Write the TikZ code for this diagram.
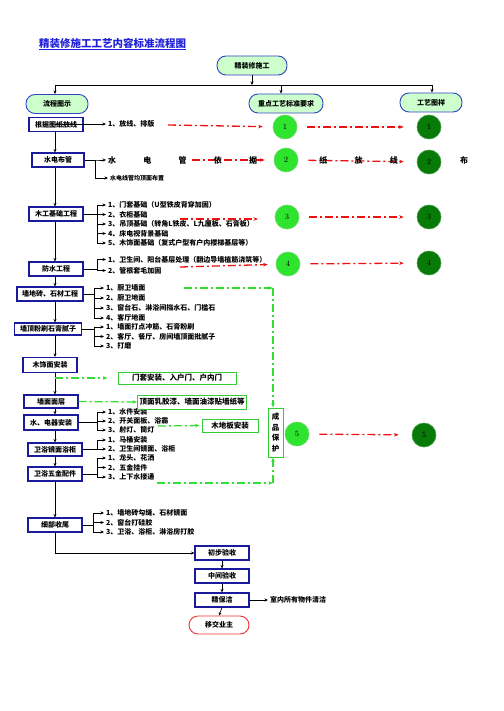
\documentclass[tikz,border=0pt]{standalone}
\usepackage{fontspec}
\newfontfamily\cjk{Noto Sans CJK SC}
\usetikzlibrary{arrows.meta,positioning,calc}
\definecolor{titleblue}{HTML}{2020D8}
\definecolor{pillfill}{HTML}{CCFFCC}
\definecolor{pillline}{HTML}{3344C0}
\definecolor{stageline}{HTML}{1A1A9A}
\definecolor{gline}{HTML}{33CC33}
\definecolor{litefill}{HTML}{2EE42E}
\definecolor{liteline}{HTML}{66D966}
\definecolor{darkfill}{HTML}{087A08}
\definecolor{darkline}{HTML}{3E9E3E}
\definecolor{dashred}{HTML}{EE1111}
\definecolor{dashgreen}{HTML}{33DD33}
\definecolor{handoff}{HTML}{EE3333}
\newcommand{\branch}[3]{%
  \foreach \nm in {#3} {\draw[link] (#1.east) -- (#1.east -| #2) |- (\nm.west);}}

\begin{document}
\begin{tikzpicture}[x=1pt,y=-1pt,
  pill/.style={draw=pillline, fill=pillfill, line width=0.9pt, rounded corners=9pt,
    minimum height=19pt, inner sep=1pt, font=\cjk\bfseries\fontsize{7}{8}\selectfont},
  stagebox/.style={draw=stageline, fill=white, line width=1.1pt, minimum height=14pt,
    minimum width=54pt, inner xsep=4pt, inner ysep=1pt, font=\cjk\bfseries\fontsize{7}{8}\selectfont},
  item/.style={anchor=west, inner xsep=2pt, inner ysep=0.5pt, font=\cjk\bfseries\fontsize{7}{8}\selectfont},
  gbox/.style={draw=gline, fill=white, line width=1pt, minimum height=13pt, inner sep=1pt,
    font=\cjk\bfseries\fontsize{7.5}{9}\selectfont},
  lite/.style={circle, fill=litefill, draw=liteline, line width=0.6pt, minimum size=24pt,
    inner sep=0pt, font=\fontsize{8}{8}\selectfont},
  dark/.style={lite, fill=darkfill, draw=darkline},
  link/.style={-{Stealth[length=3.5pt,width=3pt]}, line width=0.6pt},
  redrun/.style={draw=dashred, line width=1.3pt, dash pattern=on 8pt off 3pt on 2pt off 3pt,
    -{Stealth[length=4.5pt,width=3.5pt]}},
  greenrun/.style={redrun, draw=dashgreen}]

\useasboundingbox (0,0) rectangle (503,711);

\node[anchor=west, inner sep=0pt, text=titleblue, font=\cjk\bfseries\fontsize{10.5}{12}\selectfont]
  (title) at (39,44) {\underline{精装修施工工艺内容标准流程图}};

% top level
\node[pill, minimum width=70pt] (top) at (252,65.5) {精装修施工};
\node[pill, minimum width=62pt] (liucheng) at (57,104) {流程图示};
\node[pill, minimum width=74pt] (zhongdian) at (286,103.5) {重点工艺标准要求};
\node[pill, minimum width=62pt] (tuyang) at (431,102.5) {工艺图样};

\coordinate (busL) at (55,85);
\coordinate (busM) at (281,85);
\coordinate (busR) at (432,85);
\draw[line width=0.9pt] (busL) -- (busR);
\draw[link] (top.south) -- (top.south |- busL);
\draw[link] (busL) -- (busL |- liucheng.north);
\draw[link] (busM) -- (busM |- zhongdian.north);
\draw[link] (busR) -- (busR |- tuyang.north);

% left column
\node[stagebox] (fangxian) at (56,124.5) {根据图纸放线};
\node[stagebox, minimum width=52pt] (shuidian) at (58,160) {水电布管};
\node[stagebox] (mugong) at (56,214) {木工基础工程};
\node[stagebox] (fangshui) at (56,269) {防水工程};
\node[stagebox, minimum width=66pt] (dizhuan) at (50,294) {墙地砖、石材工程};
\node[stagebox, minimum width=67pt, minimum height=12pt] (fenshua) at (48,329) {墙顶粉刷石膏腻子};
\node[stagebox, minimum height=15pt] (mushimian) at (50,365) {木饰面安装};
\node[stagebox, minimum height=13pt] (mianceng) at (51,401.5) {墙面面层};
\node[stagebox, minimum height=15pt] (dianqi) at (51,422.5) {水、电器安装};
\node[stagebox, minimum height=13pt] (yugui) at (55,449.5) {卫浴镜面浴柜};
\node[stagebox] (wujin) at (55,474) {卫浴五金配件};
\node[stagebox] (shouwei) at (55,525) {细部收尾};

\coordinate (spine) at (55,0);
\foreach \a/\b in {fangxian/shuidian, shuidian/mugong, mugong/fangshui, fangshui/dizhuan,
                   dizhuan/fenshua, fenshua/mushimian, mushimian/mianceng, mianceng/dianqi,
                   dianqi/yugui, yugui/wujin, wujin/shouwei}
  \draw[link] (\a.south -| spine) -- (\b.north -| spine);

% acceptance
\node[stagebox] (chubu) at (222,553) {初步验收};
\node[stagebox] (zhongjian) at (222,576) {中间验收};
\node[stagebox] (baojie) at (222,600) {精保洁};
\node[pill, draw=handoff, fill=white, minimum width=60pt, minimum height=18pt] (yijiao) at (219,625) {移交业主};
\draw[link] (shouwei.south -| spine) |- (chubu.west);
\foreach \a/\b in {chubu/zhongjian, zhongjian/baojie, baojie/yijiao}
  \draw[link] (\a.south) -- (\b.north);
\node[item] (clean) at (268,600) {室内所有物件清洁};
\draw[link] (baojie.east) -- (clean.west);

% red runs (behind the texts)
\coordinate (r1) at (168,125);
\coordinate (r2) at (192,160);
\coordinate (r3a) at (180,219);
\coordinate (r3b) at (258,219);
\coordinate (r4) at (180,267);
\node[lite] (lite1) at (285,127) {1};
\node[dark] (dark1) at (429,127) {1};
\node[lite] (lite2) at (286,160) {2};
\node[dark] (dark2) at (429,162) {2};
\node[lite] (lite3) at (287,217) {3};
\node[dark] (dark3) at (429,217) {3};
\node[lite] (lite4) at (288,264) {4};
\node[dark] (dark4) at (429,263) {4};
\node[lite] (lite5) at (297,434) {5};
\node[dark] (dark5) at (424,435) {5};
\draw[redrun, shorten >=10pt] (r1) -- (lite1);
\draw[redrun, shorten >=9pt] (r2) -- (lite2);
\draw[redrun] (r3a) -- (r3b);
\draw[redrun, shorten >=8pt] (r4) -- (lite4);
\foreach \i in {1,...,5}
  \draw[redrun, shorten <=10pt, shorten >=13pt] (lite\i) -- (dark\i);

% items
\node[item] (fx1) at (106,124) {1、放线、排版};
\branch{fangxian}{spine}{fx1}

\node[item, font=\cjk\bfseries\fontsize{8}{9}\selectfont] (sd1) at (106,160)
  {\hbox to 360pt{水\hfil 电\hfil 管\hfil 依\hfil 据\hfil\phantom{图}\hfil 纸\hfil 放\hfil 线\hfil\phantom{图}\hfil 布}};
\node[item, font=\cjk\bfseries\fontsize{6}{7}\selectfont] (sd2) at (108,178) {水电线管均顶面布置};
\coordinate (bxa) at (95,0);
\branch{shuidian}{bxa}{sd1,sd2}

\coordinate (bxb) at (97,0);
\node[item] (mg1) at (106,205) {1、门套基础（U型铁皮背穿加固）};
\node[item] (mg2) at (106,214.5) {2、衣柜基础};
\node[item] (mg3) at (106,224) {3、吊顶基础（转角L铁皮、L九厘板、石膏板）};
\node[item] (mg4) at (106,233.5) {4、床电视背景基础};
\node[item] (mg5) at (106,243) {5、木饰面基础（复式户型有户内楼梯基层等）};
\branch{mugong}{bxb}{mg1,mg2,mg3,mg4,mg5}

\node[item] (fs1) at (106,259.5) {1、卫生间、阳台基层处理（翻边导墙植筋浇筑等）};
\node[item] (fs2) at (106,270.5) {2、管根套毛加固};
\branch{fangshui}{bxb}{fs1,fs2}

\coordinate (bxc) at (94,0);
\node[item] (dz1) at (104,288) {1、厨卫墙面};
\node[item] (dz2) at (104,298) {2、厨卫地面};
\node[item] (dz3) at (104,308) {3、窗台石、淋浴间挡水石、门槛石};
\node[item] (dz4) at (104,318) {4、客厅地面};
\branch{dizhuan}{bxc}{dz1,dz2,dz3,dz4}

\node[item] (fsh1) at (104,327) {1、墙面打点冲筋、石膏粉刷};
\node[item] (fsh2) at (104,336.5) {2、客厅、餐厅、房间墙顶面批腻子};
\node[item] (fsh3) at (104,346) {3、打磨};
\branch{fenshua}{bxc}{fsh1,fsh2,fsh3}

\node[item] (dq1) at (106,412) {1、水件安装};
\node[item] (dq2) at (106,421) {2、开关面板、浴霸};
\node[item] (dq3) at (106,430) {3、射灯、筒灯};
\branch{dianqi}{bxb}{dq1,dq2,dq3}

\node[item] (yg1) at (106,440) {1、马桶安装};
\node[item] (yg2) at (106,449) {2、卫生间镜面、浴柜};
\branch{yugui}{bxb}{yg1,yg2}

\node[item] (wj1) at (106,458) {1、龙头、花洒};
\node[item] (wj2) at (106,467.5) {2、五金挂件};
\node[item] (wj3) at (106,477) {3、上下水接通};
\branch{wujin}{bxb}{wj1,wj2,wj3}

\coordinate (bxd) at (93,0);
\node[item] (sw1) at (104,513) {1、墙地砖勾缝、石材镜面};
\node[item] (sw2) at (104,522.5) {2、窗台打硅胶};
\node[item] (sw3) at (104,532) {3、卫浴、浴柜、淋浴房打胶};
\branch{shouwei}{bxd}{sw1,sw2,sw3}

% green boxes and runs
\node[gbox, minimum width=118pt, minimum height=12pt] (menbox) at (177,378) {门套安装、入户门、户内门};
\node[gbox, minimum width=109pt, minimum height=14pt] (rujiao) at (192,402) {顶面乳胶漆、墙面油漆贴墙纸等};
\node[gbox, minimum width=56pt] (mudiban) at (230,425.5) {木地板安装};
\node[gbox, minimum width=15pt, minimum height=49pt, align=center,
      font=\cjk\bfseries\fontsize{7.5}{10.5}\selectfont] (chengpin) at (275.5,432.5) {成\\品\\保\\护};

\coordinate (g1a) at (184,288);
\coordinate (g1b) at (273,288);
\coordinate (g2) at (55,378);
\coordinate (g3) at (158,426);
\coordinate (g4a) at (157,483);
\coordinate (g4b) at (273,483);
\draw[greenrun] (g1a) -- (g1b);
\draw[greenrun] (g1b) -- (g1b |- chengpin.north);
\draw[greenrun, shorten >=10pt] (g2) -- (menbox.west);
\draw[greenrun] (mianceng.east) -- (rujiao.west);
\draw[greenrun, shorten >=2pt] (g3) -- (mudiban.west);
\draw[greenrun] (g4a) -- (g4b);
\draw[greenrun] (g4b) -- (g4b |- chengpin.south);

\end{tikzpicture}
\end{document}
